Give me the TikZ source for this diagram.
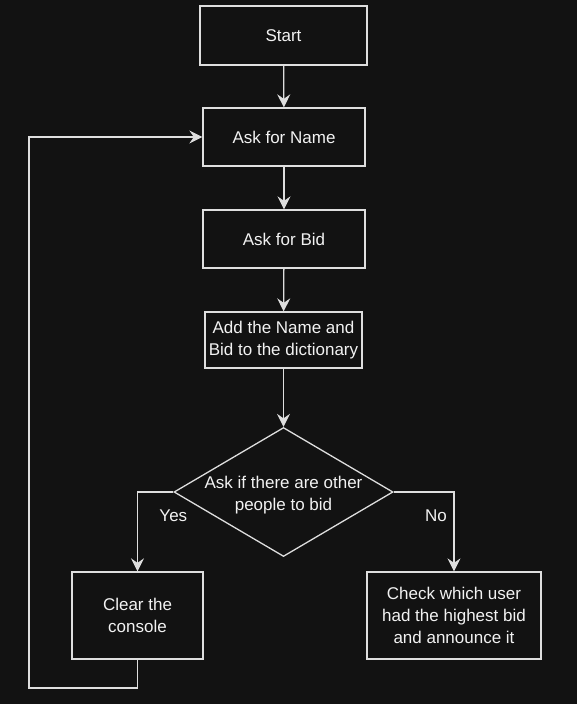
\documentclass[tikz,border=0pt]{standalone}
\usepackage{fontspec}
\setmainfont{Liberation Sans}
\usepackage{tikz}
\usetikzlibrary{arrows.meta, shapes.geometric}

\definecolor{bg}{HTML}{121212}
\definecolor{ink}{HTML}{DEDEDE}
\definecolor{txt}{HTML}{F2F2F2}

\tikzset{
  stepbox/.style={draw=ink, line width=1.3pt, rectangle, align=center, text=txt, inner sep=2pt},
  decision/.style={draw=ink, line width=1.3pt, diamond, inner sep=0pt,
    minimum width=219pt, minimum height=129pt},
  arr/.style={draw=ink, line width=1.3pt, -{Stealth[length=13pt, width=13pt, inset=4.5pt]}},
  lbl/.style={text=txt}
}

\begin{document}
\begin{tikzpicture}[x=1pt, y=-1pt, font=\fontsize{17}{22}\selectfont]
  \fill[bg] (0,0) rectangle (577,704);
  \useasboundingbox (0,0) rectangle (577,704);
  % main column
  \node[stepbox, minimum width=167pt, minimum height=59pt] (start) at (283.5,35.5) {Start};
  \node[stepbox, minimum width=162pt, minimum height=58pt] (name) at (284,137) {Ask for Name};
  \node[stepbox, minimum width=162pt, minimum height=58pt] (bid) at (284,239) {Ask for Bid};
  \node[stepbox, minimum width=157pt, minimum height=56pt] (add) at (283.5,340) {Add the Name and\\Bid to the dictionary};
  \node[decision] (ask) at (283.5,492) {};
  \node[lbl, align=center] at (283.5,495) {Ask if there are other\\people to bid};
  % the two outcomes
  \node[stepbox, minimum width=131pt, minimum height=87pt] (clear) at (137.5,615.5) {Clear the\\console};
  \node[stepbox, minimum width=174pt, minimum height=87pt] (check) at (454,615.5) {Check which user\\had the highest bid\\and announce it};
  \coordinate (loop) at (29,688);
  % connectors
  \draw[arr] (start) -- (name);
  \draw[arr] (name) -- (bid);
  \draw[arr] (bid) -- (add);
  \draw[arr] (add) -- (ask);
  \draw[arr] (ask.west) -| node[lbl, pos=0, below=14pt] {Yes} (clear.north);
  \draw[arr] (ask.east) -| node[lbl, pos=0.35, below=14pt] {No} (check.north);
  \draw[arr] (clear.south) |- (loop) |- (name.west);
\end{tikzpicture}
\end{document}
